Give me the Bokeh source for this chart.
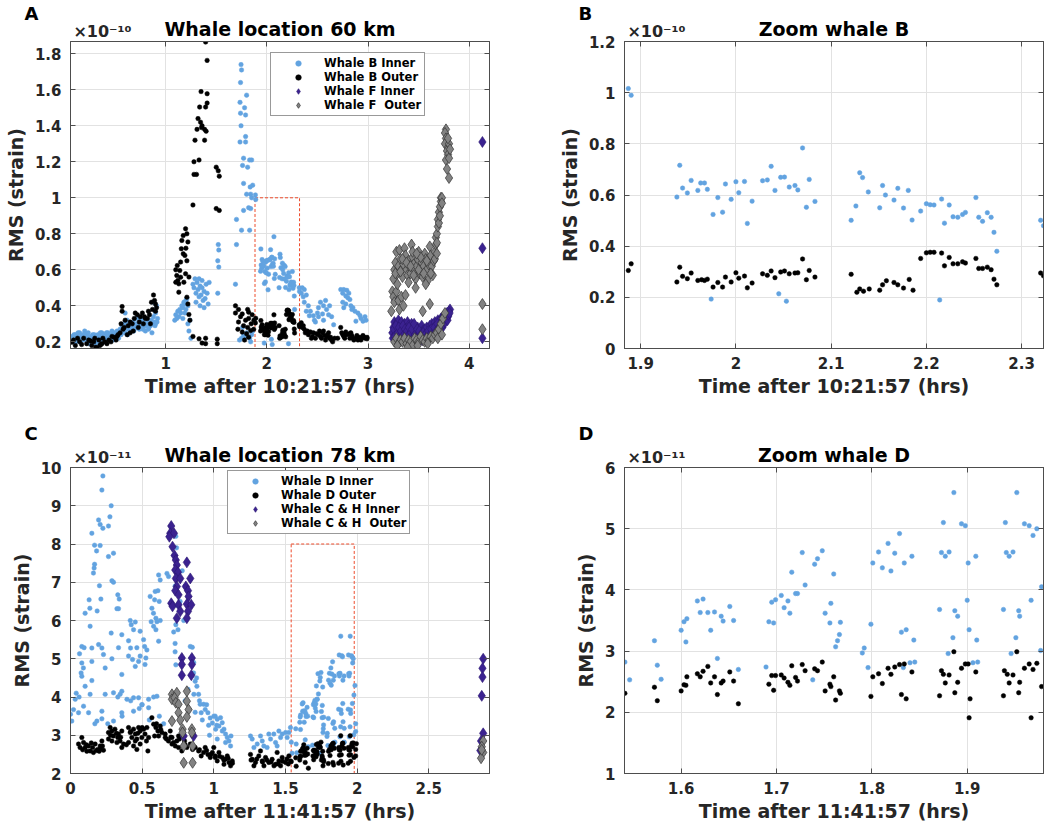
from bokeh.plotting import figure
from bokeh.models import Range1d, FixedTicker, Legend, LegendItem, LinearAxis
from bokeh.layouts import column, row
from bokeh.embed import file_html
from bokeh.resources import INLINE

FONT = "DejaVu Sans"
TXT = "#262626"
AX = "#4d4d4d"
BLUE = "#62a3e0"
BLACK = "#000000"
PURPLE = "#3b2290"
GRAY = "#828282"
RED = "#ee4b2b"

# ---------------- Whale location 60 km (units of 1e-10 strain) ----------------
bi_early = [
    (0.07, 0.21), (0.08, 0.23), (0.09, 0.20), (0.10, 0.22), (0.11, 0.24), (0.12, 0.21), (0.13, 0.23), (0.14, 0.22),
    (0.15, 0.25), (0.16, 0.20), (0.17, 0.23), (0.18, 0.24), (0.19, 0.21), (0.20, 0.26), (0.21, 0.22), (0.22, 0.24),
    (0.23, 0.21), (0.24, 0.19), (0.25, 0.23), (0.26, 0.22), (0.27, 0.20), (0.28, 0.24), (0.29, 0.21), (0.30, 0.23),
    (0.31, 0.19), (0.32, 0.22), (0.33, 0.24), (0.34, 0.20), (0.35, 0.23), (0.36, 0.21), (0.37, 0.25), (0.38, 0.22),
    (0.39, 0.20), (0.40, 0.24), (0.41, 0.23), (0.42, 0.21), (0.43, 0.25), (0.44, 0.22), (0.45, 0.24), (0.46, 0.23),
    (0.47, 0.26), (0.48, 0.21), (0.49, 0.24), (0.50, 0.25), (0.51, 0.22), (0.52, 0.26), (0.53, 0.23), (0.54, 0.25),
    (0.075, 0.22), (0.095, 0.24), (0.115, 0.20), (0.135, 0.25), (0.155, 0.22), (0.175, 0.21), (0.195, 0.24),
    (0.215, 0.23), (0.235, 0.25), (0.255, 0.20), (0.275, 0.22), (0.295, 0.24), (0.315, 0.23), (0.335, 0.21),
    (0.355, 0.25), (0.375, 0.23), (0.395, 0.22), (0.415, 0.25), (0.435, 0.23), (0.455, 0.21), (0.475, 0.24),
    (0.495, 0.22), (0.515, 0.24), (0.535, 0.22),
    (0.55, 0.27), (0.56, 0.24), (0.57, 0.29), (0.58, 0.26), (0.59, 0.30), (0.60, 0.25), (0.61, 0.28), (0.62, 0.32),
    (0.63, 0.27), (0.64, 0.29), (0.65, 0.26), (0.66, 0.30), (0.67, 0.28), (0.68, 0.31), (0.69, 0.27), (0.70, 0.29),
    (0.71, 0.33), (0.72, 0.28), (0.73, 0.30), (0.74, 0.27), (0.75, 0.31), (0.76, 0.29), (0.77, 0.32), (0.78, 0.28),
    (0.79, 0.30), (0.80, 0.26), (0.81, 0.29), (0.82, 0.31), (0.83, 0.27), (0.84, 0.30), (0.85, 0.29), (0.86, 0.32),
    (0.87, 0.30), (0.88, 0.34), (0.89, 0.31), (0.90, 0.36), (0.91, 0.40), (0.92, 0.33),
    (0.575, 0.26), (0.605, 0.31), (0.625, 0.24), (0.655, 0.29), (0.685, 0.26), (0.715, 0.30), (0.745, 0.33),
    (0.775, 0.27), (0.805, 0.30), (0.835, 0.28), (0.865, 0.25), (0.895, 0.29), (0.915, 0.31), (0.60, 0.36),
    (0.88, 0.42), (0.90, 0.30)]
bi_mid = [
    (1.09, 0.32), (1.10, 0.35), (1.11, 0.33), (1.12, 0.37), (1.13, 0.34), (1.14, 0.38), (1.15, 0.36), (1.16, 0.40),
    (1.17, 0.39), (1.18, 0.42), (1.19, 0.41), (1.20, 0.43), (1.21, 0.44), (1.20, 0.38), (1.22, 0.40), (1.22, 0.30),
    (1.23, 0.26), (1.24, 0.32), (1.25, 0.22), (1.17, 0.33), (1.19, 0.36),
    (1.27, 0.52), (1.28, 0.50), (1.29, 0.55), (1.30, 0.47), (1.31, 0.53), (1.32, 0.49), (1.33, 0.45), (1.34, 0.51),
    (1.35, 0.46), (1.36, 0.50), (1.37, 0.43), (1.38, 0.48), (1.39, 0.44), (1.40, 0.52), (1.41, 0.47), (1.42, 0.41),
    (1.43, 0.53), (1.30, 0.42), (1.34, 0.40), (1.38, 0.39), (1.33, 0.55), (1.36, 0.54),
    (1.52, 0.74), (1.525, 0.71), (1.515, 0.65), (1.525, 0.615), (1.515, 0.47)]
bi_spike = [
    (1.70, 0.88), (1.70, 0.74), (1.69, 0.52), (1.745, 1.74), (1.75, 1.71), (1.74, 1.64), (1.80, 1.57), (1.735, 1.53),
    (1.74, 1.47), (1.78, 1.50), (1.79, 1.46), (1.745, 1.40), (1.79, 1.34), (1.735, 1.31), (1.79, 1.31), (1.83, 1.21),
    (1.85, 1.21), (1.77, 1.22), (1.77, 1.08), (1.86, 1.07), (1.80, 1.02), (1.84, 1.02), (1.82, 0.945), (1.84, 0.94),
    (1.83, 0.82), (1.76, 1.18), (1.81, 1.17), (1.835, 1.06), (1.85, 1.00), (1.77, 0.93), (1.75, 0.82),
    (1.73, 0.21), (1.75, 0.22), (1.77, 0.24), (1.79, 0.23), (1.80, 0.25), (1.83, 0.22), (1.85, 0.24), (1.86, 0.26),
    (1.84, 0.20), (1.76, 0.28)]
bi_zoom = [
    (1.887, 1.016), (1.890, 0.99), (1.938, 0.592), (1.941, 0.716), (1.944, 0.627), (1.949, 0.608), (1.953, 0.657),
    (1.960, 0.618), (1.963, 0.647), (1.967, 0.647), (1.970, 0.622), (1.974, 0.193), (1.976, 0.524), (1.981, 0.590),
    (1.986, 0.533), (1.989, 0.643), (1.995, 0.583), (2.000, 0.652), (2.003, 0.609), (2.009, 0.653), (2.012, 0.489),
    (2.017, 0.576), (2.028, 0.656), (2.033, 0.659), (2.037, 0.712), (2.041, 0.618), (2.045, 0.214), (2.047, 0.669),
    (2.051, 0.670), (2.053, 0.185), (2.056, 0.631), (2.062, 0.637), (2.065, 0.620), (2.070, 0.784), (2.074, 0.552),
    (2.077, 0.661), (2.083, 0.575), (2.121, 0.501), (2.126, 0.557), (2.130, 0.687), (2.133, 0.668), (2.139, 0.612),
    (2.151, 0.550), (2.154, 0.637), (2.157, 0.600), (2.166, 0.580), (2.170, 0.626), (2.176, 0.549), (2.181, 0.618),
    (2.185, 0.502), (2.194, 0.537), (2.200, 0.566), (2.204, 0.562), (2.208, 0.561), (2.214, 0.190), (2.216, 0.584),
    (2.219, 0.490), (2.224, 0.561), (2.228, 0.515), (2.233, 0.513), (2.238, 0.524), (2.241, 0.532), (2.252, 0.590),
    (2.255, 0.513), (2.259, 0.497), (2.264, 0.531), (2.268, 0.513), (2.271, 0.454), (2.274, 0.380), (2.320, 0.501),
    (2.323, 0.480)]
bi_late = [
    (2.35, 0.50), (2.37, 0.49), (2.34, 0.47), (2.36, 0.45), (2.39, 0.46), (2.37, 0.42), (2.41, 0.40), (2.39, 0.37),
    (2.43, 0.37), (2.46, 0.345), (2.47, 0.32), (2.50, 0.36), (2.51, 0.39), (2.53, 0.42), (2.56, 0.40), (2.58, 0.43),
    (2.59, 0.38), (2.61, 0.35), (2.62, 0.40), (2.64, 0.34), (2.66, 0.295), (2.51, 0.34), (2.55, 0.355), (2.56, 0.32),
    (2.48, 0.31), (2.42, 0.345), (2.73, 0.49), (2.76, 0.49), (2.79, 0.486), (2.81, 0.47), (2.75, 0.47), (2.78, 0.455),
    (2.80, 0.445), (2.82, 0.435), (2.75, 0.42), (2.78, 0.41), (2.83, 0.40), (2.85, 0.39), (2.87, 0.37), (2.90, 0.36),
    (2.92, 0.346), (2.93, 0.33), (2.97, 0.34), (2.98, 0.32), (2.88, 0.315), (2.95, 0.315), (2.76, 0.39), (2.84, 0.38)]

bo_early = [
    (0.075, 0.198), (0.108, 0.18), (0.17, 0.185), (0.22, 0.19), (0.27, 0.18), (0.32, 0.166), (0.35, 0.18), (0.40, 0.20),
    (0.44, 0.21), (0.49, 0.225), (0.53, 0.24), (0.57, 0.396), (0.57, 0.37), (0.59, 0.28), (0.56, 0.30), (0.60, 0.32),
    (0.65, 0.31), (0.70, 0.36), (0.72, 0.35), (0.75, 0.34), (0.77, 0.36), (0.80, 0.33), (0.83, 0.37), (0.86, 0.42),
    (0.88, 0.46), (0.90, 0.41), (0.87, 0.38), (0.90, 0.37), (0.91, 0.39), (0.68, 0.26), (0.73, 0.28), (0.65, 0.25),
    (0.62, 0.24), (0.09, 0.21), (0.13, 0.22), (0.15, 0.20), (0.19, 0.22), (0.24, 0.21), (0.29, 0.20), (0.30, 0.22),
    (0.34, 0.21), (0.37, 0.19), (0.38, 0.22), (0.42, 0.19), (0.46, 0.20), (0.47, 0.23), (0.51, 0.21), (0.52, 0.23),
    (0.55, 0.25), (0.58, 0.27), (0.63, 0.29), (0.67, 0.30), (0.69, 0.33), (0.74, 0.31), (0.78, 0.30), (0.79, 0.34),
    (0.82, 0.33), (0.84, 0.35), (0.85, 0.30), (0.89, 0.43), (0.31, 0.17), (0.36, 0.185), (0.26, 0.205)]
bo_mid = [
    (1.10, 0.60), (1.10, 0.531), (1.11, 0.568), (1.115, 0.624), (1.13, 0.522), (1.13, 0.476), (1.14, 0.596),
    (1.148, 0.643), (1.148, 0.559), (1.155, 0.717), (1.16, 0.763), (1.174, 0.79), (1.174, 0.689), (1.18, 0.531),
    (1.197, 0.828), (1.197, 0.578), (1.21, 0.80), (1.21, 0.448), (1.22, 0.755), (1.23, 0.56), (1.23, 0.352),
    (1.24, 0.32), (1.20, 0.72), (1.19, 0.68), (1.21, 0.65), (1.22, 0.41), (1.12, 0.54),
    (1.395, 1.865), (1.41, 1.763), (1.35, 1.59), (1.41, 1.578), (1.41, 1.526), (1.336, 1.504), (1.395, 1.504),
    (1.32, 1.44), (1.345, 1.42), (1.355, 1.39), (1.31, 1.38), (1.385, 1.38), (1.29, 1.32), (1.385, 1.32), (1.28, 1.20),
    (1.33, 1.21), (1.28, 1.13), (1.305, 1.13), (1.27, 0.96), (1.50, 1.17), (1.52, 1.15), (1.53, 1.12), (1.50, 0.94),
    (1.53, 0.93), (1.36, 1.40), (1.40, 1.37),
    (1.27, 0.23), (1.33, 0.217), (1.36, 0.193), (1.395, 0.22), (1.395, 0.19), (1.51, 0.215), (1.51, 0.19),
    (1.69, 0.40), (1.69, 0.36), (1.72, 0.38), (1.757, 0.355), (1.81, 0.38), (1.82, 0.365), (1.74, 0.34), (1.79, 0.32),
    (1.82, 0.33), (1.855, 0.35), (1.72, 0.31), (1.77, 0.29), (1.81, 0.28), (1.845, 0.30), (1.87, 0.27), (1.757, 0.254),
    (1.80, 0.245), (1.84, 0.263), (1.872, 0.32), (1.714, 0.27), (1.82, 0.226), (1.78, 0.21)]
bo_zoom = [
    (1.887, 0.305), (1.890, 0.331), (1.938, 0.26), (1.941, 0.318), (1.944, 0.282), (1.949, 0.273), (1.953, 0.295),
    (1.960, 0.266), (1.964, 0.269), (1.967, 0.266), (1.970, 0.271), (1.976, 0.24), (1.981, 0.258), (1.986, 0.24),
    (1.989, 0.279), (1.995, 0.26), (2.000, 0.296), (2.003, 0.275), (2.009, 0.283), (2.012, 0.237), (2.017, 0.256),
    (2.028, 0.292), (2.033, 0.286), (2.037, 0.303), (2.041, 0.277), (2.047, 0.299), (2.051, 0.303), (2.056, 0.292),
    (2.062, 0.295), (2.065, 0.296), (2.070, 0.35), (2.074, 0.269), (2.077, 0.305), (2.083, 0.279), (2.121, 0.29),
    (2.127, 0.22), (2.130, 0.233), (2.134, 0.224), (2.140, 0.233), (2.151, 0.228), (2.154, 0.249), (2.158, 0.265),
    (2.166, 0.258), (2.170, 0.249), (2.176, 0.236), (2.182, 0.27), (2.186, 0.228), (2.194, 0.352), (2.200, 0.374),
    (2.204, 0.376), (2.208, 0.376), (2.216, 0.373), (2.219, 0.323), (2.224, 0.356), (2.228, 0.331), (2.233, 0.331),
    (2.238, 0.339), (2.241, 0.334), (2.252, 0.352), (2.255, 0.313), (2.259, 0.313), (2.264, 0.318), (2.268, 0.308),
    (2.271, 0.271), (2.274, 0.249), (2.320, 0.295), (2.323, 0.284)]
bo_late = [
    (2.333, 0.291), (2.34, 0.306), (2.35, 0.28), (2.37, 0.27), (2.40, 0.26), (2.43, 0.255), (2.44, 0.22), (2.46, 0.25),
    (2.49, 0.245), (2.52, 0.26), (2.53, 0.23), (2.55, 0.25), (2.57, 0.235), (2.58, 0.21), (2.60, 0.24), (2.62, 0.22),
    (2.63, 0.225), (2.65, 0.20), (2.67, 0.22), (2.70, 0.22), (2.73, 0.28), (2.74, 0.25), (2.76, 0.23), (2.78, 0.255),
    (2.81, 0.244), (2.82, 0.22), (2.84, 0.235), (2.86, 0.21), (2.89, 0.235), (2.90, 0.21), (2.92, 0.225), (2.95, 0.235),
    (2.96, 0.226), (2.99, 0.225), (2.99, 0.217), (2.36, 0.29), (2.38, 0.25), (2.41, 0.24), (2.45, 0.23), (2.48, 0.22),
    (2.51, 0.24), (2.54, 0.22), (2.56, 0.26), (2.59, 0.23), (2.61, 0.25), (2.64, 0.21), (2.75, 0.24), (2.77, 0.22),
    (2.79, 0.24), (2.83, 0.25), (2.85, 0.22), (2.88, 0.22), (2.93, 0.21), (2.97, 0.22)]

fi_pts = [
    (3.24, 0.25), (3.25, 0.28), (3.26, 0.31), (3.27, 0.24), (3.28, 0.30), (3.29, 0.27), (3.30, 0.32), (3.31, 0.26),
    (3.32, 0.29), (3.33, 0.31), (3.34, 0.25), (3.35, 0.28), (3.36, 0.30), (3.37, 0.27), (3.38, 0.24), (3.39, 0.31),
    (3.40, 0.29), (3.41, 0.26), (3.42, 0.28), (3.43, 0.30), (3.44, 0.25), (3.45, 0.27), (3.46, 0.29), (3.47, 0.23),
    (3.48, 0.26), (3.49, 0.28), (3.50, 0.24), (3.51, 0.27), (3.52, 0.25), (3.53, 0.29), (3.54, 0.26), (3.55, 0.23),
    (3.56, 0.27), (3.57, 0.25), (3.58, 0.28), (3.59, 0.24), (3.60, 0.26), (3.61, 0.29), (3.62, 0.27), (3.63, 0.30),
    (3.64, 0.26), (3.65, 0.28), (3.66, 0.31), (3.67, 0.27), (3.68, 0.29), (3.69, 0.32), (3.70, 0.28), (3.71, 0.30),
    (3.72, 0.33), (3.73, 0.31), (3.74, 0.34), (3.75, 0.32), (3.76, 0.35), (3.77, 0.33), (3.78, 0.36), (3.79, 0.34),
    (3.80, 0.37), (3.81, 0.38),
    (3.245, 0.22), (3.255, 0.27), (3.265, 0.23), (3.275, 0.29), (3.285, 0.22), (3.295, 0.25), (3.305, 0.28),
    (3.315, 0.23), (3.325, 0.26), (3.335, 0.22), (3.345, 0.29), (3.355, 0.24), (3.365, 0.27), (3.375, 0.22),
    (3.385, 0.26), (3.395, 0.23), (3.405, 0.28), (3.415, 0.22), (3.425, 0.25), (3.435, 0.27), (3.445, 0.22),
    (3.455, 0.30), (3.465, 0.24), (3.475, 0.22), (3.485, 0.27), (3.495, 0.23), (3.505, 0.26), (3.515, 0.22),
    (3.525, 0.24), (3.535, 0.21), (3.545, 0.25), (3.555, 0.22), (3.565, 0.24), (3.575, 0.21), (3.585, 0.23),
    (3.595, 0.26), (3.605, 0.22), (3.615, 0.24), (3.625, 0.27), (3.635, 0.23), (3.645, 0.25), (3.655, 0.28),
    (3.665, 0.24), (3.675, 0.26), (3.685, 0.30), (3.695, 0.27), (3.705, 0.25), (3.715, 0.29), (3.725, 0.31),
    (3.735, 0.28), (3.745, 0.30), (3.755, 0.33), (3.765, 0.31), (3.775, 0.34), (3.785, 0.32), (3.795, 0.35),
    (3.805, 0.36), (3.27, 0.43), (4.13, 1.31), (4.13, 0.72), (4.13, 0.22)]
fo_pts = [
    (3.23, 0.37), (3.24, 0.48), (3.25, 0.55), (3.26, 0.60), (3.27, 0.64), (3.28, 0.70), (3.29, 0.58), (3.30, 0.62),
    (3.31, 0.71), (3.32, 0.66), (3.33, 0.60), (3.34, 0.56), (3.35, 0.63), (3.36, 0.72), (3.37, 0.68), (3.38, 0.60),
    (3.39, 0.57), (3.40, 0.65), (3.41, 0.62), (3.42, 0.58), (3.43, 0.74), (3.44, 0.67), (3.45, 0.63), (3.46, 0.60),
    (3.47, 0.55), (3.48, 0.62), (3.49, 0.66), (3.50, 0.70), (3.51, 0.58), (3.52, 0.60), (3.53, 0.64), (3.54, 0.56),
    (3.55, 0.62), (3.56, 0.69), (3.57, 0.66), (3.58, 0.60), (3.59, 0.54), (3.60, 0.63), (3.61, 0.73), (3.62, 0.68),
    (3.63, 0.62), (3.64, 0.57), (3.65, 0.65),
    (3.25, 0.45), (3.26, 0.42), (3.28, 0.48), (3.30, 0.43), (3.31, 0.38), (3.33, 0.45), (3.35, 0.40), (3.37, 0.46),
    (3.54, 0.37), (3.61, 0.41), (3.29, 0.52), (3.40, 0.53), (3.47, 0.50), (3.57, 0.52),
    (3.27, 0.58), (3.32, 0.59), (3.34, 0.66), (3.38, 0.64), (3.42, 0.62), (3.45, 0.57), (3.50, 0.60), (3.52, 0.67),
    (3.55, 0.58), (3.58, 0.65), (3.62, 0.58), (3.44, 0.70), (3.48, 0.69),
    (3.66, 0.70), (3.67, 0.74), (3.67, 0.78), (3.68, 0.80), (3.68, 0.75), (3.69, 0.84), (3.69, 0.88), (3.70, 0.86),
    (3.70, 0.92), (3.71, 0.90), (3.71, 0.95), (3.72, 0.98), (3.72, 1.00), (3.73, 1.00), (3.73, 0.97), (3.66, 0.66),
    (3.68, 0.69),
    (3.77, 1.38), (3.76, 1.36), (3.77, 1.33), (3.78, 1.31), (3.76, 1.30), (3.79, 1.28), (3.78, 1.26), (3.80, 1.30),
    (3.79, 1.24), (3.77, 1.21), (3.80, 1.22), (3.78, 1.16), (3.80, 1.11), (3.81, 1.27), (3.79, 1.33),
    (3.26, 0.20), (3.28, 0.22), (3.30, 0.19), (3.32, 0.21), (3.34, 0.20), (3.36, 0.22), (3.38, 0.19), (3.40, 0.21),
    (3.42, 0.20), (3.44, 0.18), (3.46, 0.22), (3.48, 0.21), (3.50, 0.20), (3.52, 0.23), (3.54, 0.21), (3.56, 0.20),
    (3.58, 0.22), (3.60, 0.21), (3.62, 0.23), (3.64, 0.22), (3.66, 0.24), (3.68, 0.25), (3.70, 0.27), (3.72, 0.30),
    (3.74, 0.33), (3.76, 0.36), (3.29, 0.18), (3.39, 0.17), (3.49, 0.18), (3.59, 0.19), (3.69, 0.22), (3.73, 0.24),
    (4.13, 0.41), (4.13, 0.27)]

# ---------------- Whale location 78 km (units of 1e-11 strain) ----------------
di_main = [
    (0.0, 3.55), (0.009, 3.37), (0.021, 3.67), (0.033, 3.94), (0.04, 4.1), (0.056, 3.59), (0.06, 4.0), (0.063, 5.13),
    (0.074, 4.63), (0.079, 4.54), (0.079, 4.89), (0.079, 5.32), (0.09, 4.76), (0.091, 3.76), (0.095, 5.29),
    (0.102, 6.19), (0.102, 4.28), (0.126, 3.59), (0.13, 6.54), (0.135, 6.32), (0.137, 5.85), (0.137, 4.07),
    (0.149, 8.28), (0.149, 5.28), (0.149, 4.93), (0.149, 4.43), (0.16, 7.24), (0.165, 7.37), (0.168, 7.47),
    (0.168, 7.97), (0.17, 3.3), (0.182, 7.82), (0.184, 3.37), (0.186, 6.25), (0.196, 8.63), (0.196, 5.37),
    (0.202, 6.91), (0.207, 8.51), (0.207, 7.96), (0.212, 6.56), (0.219, 9.41), (0.219, 5.28), (0.219, 3.63),
    (0.219, 3.43), (0.226, 9.78), (0.226, 8.41), (0.23, 5.11), (0.242, 4.76), (0.242, 4.07), (0.26, 3.3),
    (0.265, 8.47), (0.265, 7.67), (0.275, 8.71), (0.284, 9.0), (0.284, 5.67), (0.289, 7.04), (0.289, 5.0),
    (0.30, 7.76), (0.30, 7.0), (0.30, 4.11), (0.30, 3.37), (0.324, 6.31), (0.33, 6.67), (0.33, 4.0), (0.335, 6.31),
    (0.335, 5.29), (0.34, 6.56), (0.346, 4.07), (0.358, 5.63), (0.358, 4.59), (0.358, 4.15), (0.358, 3.59),
    (0.36, 3.5), (0.394, 3.94), (0.405, 5.47), (0.405, 5.07), (0.417, 6.0), (0.419, 5.28), (0.42, 3.9), (0.424, 5.89),
    (0.433, 4.98), (0.44, 5.76), (0.44, 3.98), (0.44, 3.63), (0.452, 5.96), (0.452, 4.80), (0.463, 5.29),
    (0.475, 4.93), (0.475, 3.98), (0.48, 3.7), (0.486, 5.72), (0.486, 5.07), (0.498, 3.80), (0.5, 3.8), (0.51, 5.50),
    (0.517, 5.32), (0.52, 4.85), (0.526, 5.02), (0.533, 5.23), (0.545, 3.94), (0.545, 3.72), (0.55, 3.4),
    (0.556, 6.63), (0.563, 5.97), (0.568, 6.32), (0.579, 6.19), (0.58, 5.85), (0.58, 4.0), (0.587, 6.54),
    (0.591, 6.76), (0.596, 6.06), (0.596, 5.76), (0.603, 5.97), (0.603, 4.02), (0.61, 6.78), (0.615, 7.19),
    (0.615, 5.46), (0.619, 6.50), (0.62, 3.5), (0.626, 7.06), (0.626, 6.0), (0.65, 3.3), (0.673, 7.23),
    (0.684, 7.15), (0.72, 5.7), (0.73, 5.18), (0.73, 6.9), (0.73, 5.4), (0.735, 8.2), (0.735, 5.89), (0.735, 4.84),
    (0.74, 7.9), (0.745, 6.4), (0.75, 7.3), (0.75, 5.76), (0.765, 6.5), (0.77, 3.0), (0.78, 7.3), (0.79, 6.0),
    (0.8, 6.9), (0.8, 3.9), (0.82, 4.2), (0.836, 5.32), (0.843, 5.02), (0.85, 5.3), (0.859, 4.63), (0.86, 4.9),
    (0.861, 4.07), (0.87, 4.41), (0.87, 3.6), (0.88, 4.5), (0.882, 4.28), (0.894, 4.07), (0.9, 3.9), (0.905, 3.81),
    (0.912, 3.59), (0.92, 3.4), (0.929, 3.81), (0.94, 3.67), (0.95, 3.8), (0.959, 3.59), (0.964, 3.26), (0.97, 3.0),
    (0.975, 3.45), (0.99, 3.32), (1.0, 3.50), (1.01, 3.50), (1.013, 3.16), (1.02, 3.26), (1.024, 3.42),
    (1.024, 2.90), (1.036, 3.24), (1.047, 3.46), (1.059, 3.33), (1.059, 3.11), (1.071, 3.16), (1.082, 3.03),
    (1.082, 2.81), (1.094, 2.94), (1.106, 2.85), (1.117, 2.72), (1.12, 2.98), (1.256, 2.98), (1.268, 2.90),
    (1.28, 2.68), (1.303, 2.77), (1.326, 2.98), (1.338, 2.85), (1.349, 2.72), (1.372, 2.68), (1.384, 3.03),
    (1.396, 2.90), (1.419, 3.03), (1.431, 2.81), (1.442, 2.72), (1.454, 3.11), (1.466, 2.94), (1.477, 3.03),
    (1.501, 3.07), (1.512, 2.94), (1.524, 3.07), (1.535, 3.20)]
di_zoom = [
    (1.541, 2.82), (1.546, 2.53), (1.572, 3.17), (1.575, 2.77), (1.579, 2.54), (1.600, 3.34), (1.603, 3.48),
    (1.605, 3.15), (1.606, 3.53), (1.617, 3.82), (1.620, 3.63), (1.623, 3.85), (1.628, 3.63), (1.631, 3.34),
    (1.635, 3.64), (1.638, 2.88), (1.642, 3.57), (1.644, 3.49), (1.651, 3.73), (1.655, 3.50), (1.660, 2.70),
    (1.689, 2.74), (1.692, 3.48), (1.695, 3.80), (1.697, 3.46), (1.699, 3.84), (1.705, 3.91), (1.708, 3.71),
    (1.712, 3.82), (1.714, 3.62), (1.716, 4.29), (1.720, 3.94), (1.722, 3.94), (1.727, 4.61), (1.730, 4.08),
    (1.738, 2.53), (1.740, 4.42), (1.743, 4.51), (1.748, 4.64), (1.751, 3.62), (1.757, 3.78), (1.756, 3.46),
    (1.760, 4.26), (1.762, 3.07), (1.764, 3.17), (1.766, 3.27), (1.767, 3.47), (1.790, 2.97), (1.792, 3.05),
    (1.796, 2.73), (1.799, 3.44), (1.801, 4.44), (1.807, 4.62), (1.811, 4.36), (1.817, 4.76), (1.820, 4.31),
    (1.824, 4.60), (1.829, 4.92), (1.831, 3.31), (1.834, 4.44), (1.836, 3.35), (1.833, 2.73), (1.840, 2.81),
    (1.842, 4.55), (1.844, 3.18), (1.845, 2.82), (1.871, 3.68), (1.873, 4.61), (1.875, 5.10), (1.877, 4.55),
    (1.880, 2.96), (1.881, 4.62), (1.885, 3.22), (1.886, 5.59), (1.887, 3.66), (1.890, 3.57), (1.894, 5.08),
    (1.898, 5.05), (1.900, 3.83), (1.901, 4.44), (1.902, 3.35), (1.906, 2.81), (1.909, 4.55), (1.910, 3.18),
    (1.911, 2.82), (1.938, 3.68), (1.940, 5.10), (1.941, 4.61), (1.944, 4.55), (1.946, 2.96), (1.948, 4.62),
    (1.951, 3.22), (1.952, 5.59), (1.954, 3.66), (1.955, 3.57), (1.960, 5.08), (1.965, 5.05), (1.967, 3.83),
    (1.969, 4.89), (1.973, 5.00), (1.977, 3.01), (1.978, 4.05)]
di_late = [(1.985, 4.3), (1.99, 3.3), (1.99, 3.1)]

do_main = [
    (0.056, 2.77), (0.067, 2.68), (0.079, 2.94), (0.091, 2.81), (0.102, 2.68), (0.114, 2.58), (0.126, 2.72),
    (0.137, 2.59), (0.154, 2.68), (0.16, 2.55), (0.172, 2.77), (0.191, 2.63), (0.20, 2.58), (0.207, 2.72),
    (0.219, 2.85), (0.223, 2.72), (0.23, 2.61), (0.265, 3.07), (0.265, 2.90), (0.277, 3.20), (0.289, 3.11),
    (0.289, 2.85), (0.30, 2.98), (0.31, 3.16), (0.324, 2.81), (0.33, 2.94), (0.335, 3.03), (0.346, 2.85),
    (0.358, 3.11), (0.358, 2.68), (0.37, 2.77), (0.405, 3.20), (0.405, 2.81), (0.417, 3.07), (0.428, 2.94),
    (0.44, 3.16), (0.44, 2.72), (0.452, 3.03), (0.452, 2.85), (0.463, 2.90), (0.463, 2.63), (0.475, 3.20),
    (0.486, 3.11), (0.486, 2.77), (0.498, 2.94), (0.51, 3.16), (0.52, 3.03), (0.533, 3.20), (0.54, 2.59),
    (0.545, 2.94), (0.568, 3.46), (0.58, 3.29), (0.587, 2.98), (0.596, 3.20), (0.61, 3.11), (0.615, 2.98),
    (0.626, 3.24), (0.638, 3.07), (0.661, 2.94), (0.661, 3.03), (0.684, 2.85), (0.696, 3.11), (0.708, 2.94),
    (0.708, 2.77), (0.719, 2.81), (0.731, 2.72), (0.742, 2.85), (0.754, 2.68), (0.754, 2.98), (0.777, 2.59),
    (0.796, 2.85), (0.812, 2.68), (0.836, 2.77), (0.852, 2.63), (0.87, 2.68), (0.894, 2.59), (0.912, 2.46),
    (0.929, 2.55), (0.94, 2.68), (0.959, 2.50), (0.975, 2.42), (0.99, 2.55), (1.0, 2.68), (1.01, 2.42),
    (1.01, 2.46), (1.024, 2.33), (1.036, 2.55), (1.059, 2.42), (1.071, 2.24), (1.08, 2.37), (1.094, 2.46),
    (1.106, 2.29), (1.117, 2.20), (1.129, 2.33), (1.256, 2.50), (1.268, 2.37), (1.28, 2.20), (1.291, 2.29),
    (1.314, 2.46), (1.326, 2.59), (1.338, 2.33), (1.35, 2.20), (1.361, 2.42), (1.384, 2.29), (1.407, 2.37),
    (1.42, 2.20), (1.431, 2.24), (1.442, 2.55), (1.454, 2.33), (1.466, 2.20), (1.477, 2.42), (1.501, 2.29),
    (1.524, 2.46), (1.535, 2.33),
    (0.085, 2.62), (0.11, 2.75), (0.145, 2.8), (0.18, 2.6), (0.21, 2.65), (0.28, 3.0), (0.32, 3.05), (0.35, 2.95),
    (0.39, 2.75), (0.42, 3.1), (0.47, 3.05), (0.50, 3.2), (0.53, 2.85), (0.6, 3.3), (0.63, 3.15), (0.67, 2.9),
    (0.7, 2.95), (0.76, 2.9), (0.8, 2.75), (0.86, 2.7), (0.9, 2.62), (0.95, 2.6), (0.98, 2.5), (1.04, 2.45),
    (1.07, 2.35), (1.1, 2.4), (1.13, 2.27), (1.26, 2.35), (1.3, 2.38), (1.34, 2.3), (1.37, 2.35), (1.4, 2.3),
    (1.45, 2.25), (1.48, 2.32), (1.51, 2.38), (1.52, 2.25)]
do_zoom = [
    (1.541, 2.31), (1.572, 2.41), (1.575, 2.19), (1.600, 2.35), (1.603, 2.45), (1.605, 2.44), (1.606, 2.58),
    (1.617, 2.63), (1.620, 2.58), (1.623, 2.67), (1.628, 2.75), (1.631, 2.48), (1.635, 2.58), (1.638, 2.29),
    (1.642, 2.48), (1.644, 2.51), (1.651, 2.66), (1.655, 2.51), (1.660, 2.14), (1.692, 2.46), (1.695, 2.60),
    (1.697, 2.36), (1.699, 2.60), (1.705, 2.61), (1.708, 2.56), (1.712, 2.49), (1.714, 2.44), (1.716, 2.76),
    (1.720, 2.57), (1.722, 2.51), (1.727, 2.78), (1.730, 2.68), (1.740, 2.71), (1.743, 2.68), (1.748, 2.82),
    (1.751, 2.35), (1.756, 2.46), (1.757, 2.42), (1.760, 2.58), (1.762, 2.20), (1.766, 2.35), (1.767, 2.31),
    (1.799, 2.26), (1.801, 2.58), (1.807, 2.63), (1.811, 2.47), (1.817, 2.72), (1.820, 2.62), (1.824, 2.74),
    (1.829, 2.78), (1.831, 2.29), (1.834, 2.79), (1.836, 2.22), (1.842, 2.66), (1.871, 2.27), (1.873, 2.68),
    (1.875, 2.62), (1.877, 2.48), (1.881, 2.61), (1.886, 2.99), (1.887, 2.32), (1.890, 2.49), (1.894, 2.72),
    (1.898, 2.79), (1.901, 2.79), (1.902, 1.91), (1.903, 2.22), (1.909, 2.66), (1.938, 2.27), (1.939, 2.68),
    (1.942, 2.62), (1.944, 2.48), (1.948, 2.61), (1.952, 2.99), (1.954, 2.32), (1.955, 2.49), (1.960, 2.72),
    (1.965, 2.79), (1.967, 1.91), (1.969, 2.70), (1.973, 2.80), (1.978, 2.42)]
do_late = [(1.99, 2.63), (1.99, 2.46), (1.995, 2.78)]

ci_pts = [
    (0.703, 8.47), (0.696, 8.28), (0.722, 8.28), (0.69, 8.19), (0.712, 7.93), (0.726, 7.70), (0.735, 7.58),
    (0.742, 7.45), (0.731, 7.32), (0.75, 7.26), (0.735, 7.10), (0.812, 7.52), (0.766, 7.10), (0.836, 7.10),
    (0.742, 6.89), (0.805, 6.89), (0.731, 6.78), (0.754, 6.67), (0.82, 6.78), (0.824, 6.63), (0.703, 6.45),
    (0.712, 6.37), (0.754, 6.41), (0.812, 6.43), (0.843, 6.41), (0.766, 6.24), (0.82, 6.24), (0.742, 6.06),
    (0.812, 6.06), (0.777, 5.02), (0.847, 5.02), (0.777, 4.85), (0.847, 4.85), (0.777, 4.57), (0.843, 4.57),
    (0.79, 2.98), (0.859, 2.98),
    (2.88, 5.0), (2.875, 4.75), (2.875, 4.52), (2.87, 4.03), (2.88, 3.05), (2.865, 2.85), (2.86, 2.6)]
co_pts = [
    (0.708, 4.07), (0.742, 4.11), (0.812, 4.15), (0.708, 3.94), (0.726, 3.98), (0.735, 3.85), (0.754, 3.81),
    (0.812, 3.89), (0.754, 3.59), (0.824, 3.67), (0.766, 3.40), (0.812, 3.48), (0.708, 3.37), (0.782, 3.16),
    (0.847, 3.16), (0.782, 3.07), (0.847, 3.07), (0.79, 2.72), (0.852, 2.72), (0.79, 2.28), (0.852, 2.28),
    (2.88, 2.85), (2.87, 2.7), (2.88, 2.55), (2.865, 2.4), (2.87, 2.62)]

# zoom boxes [left, right, bottom, top]
box_b = [1.883, 2.323, 0.0, 1.0]
box_d = [1.54, 1.98, 1.5, 8.0]

# axes
xt_a = [1, 2, 3, 4]; xl_a = ["1", "2", "3", "4"]
yt_a = [0.2, 0.4, 0.6, 0.8, 1.0, 1.2, 1.4, 1.6, 1.8]
yl_a = ["0.2", "0.4", "0.6", "0.8", "1", "1.2", "1.4", "1.6", "1.8"]
xt_b = [1.9, 2.0, 2.1, 2.2, 2.3]; xl_b = ["1.9", "2", "2.1", "2.2", "2.3"]
yt_b = [0, 0.2, 0.4, 0.6, 0.8, 1.0, 1.2]; yl_b = ["0", "0.2", "0.4", "0.6", "0.8", "1", "1.2"]
xt_c = [0, 0.5, 1, 1.5, 2, 2.5]; xl_c = ["0", "0.5", "1", "1.5", "2", "2.5"]
yt_c = [2, 3, 4, 5, 6, 7, 8, 9, 10]; yl_c = ["2", "3", "4", "5", "6", "7", "8", "9", "10"]
xt_d = [1.6, 1.7, 1.8, 1.9]; xl_d = ["1.6", "1.7", "1.8", "1.9"]
yt_d = [1, 2, 3, 4, 5, 6]; yl_d = ["1", "2", "3", "4", "5", "6"]
exp_a = "\u00d710\u207b\u00b9\u2070"   # x10^-10
exp_c = "\u00d710\u207b\u00b9\u00b9"   # x10^-11


def xy(*segs):
    return [p[0] for s in segs for p in s], [p[1] for s in segs for p in s]


def style_axis(ax):
    ax.axis_label_text_font = FONT
    ax.axis_label_text_font_size = "19px"
    ax.axis_label_text_font_style = "bold"
    ax.axis_label_text_color = TXT
    ax.major_label_text_font = FONT
    ax.major_label_text_font_size = "15px"
    ax.major_label_text_font_style = "bold"
    ax.major_label_text_color = TXT
    ax.axis_line_color = AX
    ax.major_tick_line_color = AX
    ax.minor_tick_line_color = AX
    ax.major_tick_in = 5
    ax.major_tick_out = 0
    ax.minor_tick_in = 0
    ax.minor_tick_out = 0
    ax.axis_label_standoff = 3


def make_fig(letter, title, xlabel, xr, yr, xt, xl, yt, yl, border, height, exp, letter_standoff):
    l, r, t, b = border
    p = figure(width=524, height=height, output_backend="svg", toolbar_location=None,
               x_range=Range1d(*xr), y_range=Range1d(*yr),
               min_border_left=l, min_border_right=r, min_border_top=t, min_border_bottom=b,
               background_fill_color="white", border_fill_color="white")
    # panel letter as the figure title (outermost row, left)
    p.title.text = letter
    p.title.align = "left"
    p.title.vertical_align = "middle"
    p.title.offset = -46
    p.title.text_font = FONT
    p.title.text_font_size = "18px"
    p.title.text_font_style = "bold"
    p.title.text_color = "black"
    p.title.standoff = letter_standoff
    p.outline_line_color = AX
    p.outline_line_alpha = 1
    p.outline_line_width = 1
    p.xaxis.ticker = FixedTicker(ticks=xt)
    p.xaxis.major_label_overrides = dict(zip(xt, xl))
    p.yaxis.ticker = FixedTicker(ticks=yt)
    p.yaxis.major_label_overrides = dict(zip(yt, yl))
    p.xaxis.axis_label = xlabel
    p.yaxis.axis_label = "RMS (strain)"
    style_axis(p.xaxis[0])
    style_axis(p.yaxis[0])
    p.xaxis.major_label_standoff = 8
    p.yaxis.major_label_standoff = 9
    p.yaxis.axis_label_standoff = 5
    p.grid.grid_line_color = "#e2e2e2"
    p.grid.grid_line_width = 1

    # top axis: inner ticks, exponent label and the panel title
    frame_w = 524 - l - r
    x_exp = xr[0] + (xr[1] - xr[0]) * 32.0 / frame_w
    top = LinearAxis(ticker=FixedTicker(ticks=[x_exp], minor_ticks=xt))
    style_axis(top)
    top.major_label_overrides = {x_exp: exp}
    top.major_label_text_font_size = "16px"
    top.major_label_text_color = TXT
    top.major_label_standoff = 1
    top.major_tick_in = 0
    top.minor_tick_in = 5
    top.axis_label = title
    top.axis_label_text_font_size = "19px"
    top.axis_label_text_color = "black"
    top.axis_label_standoff = -21
    p.add_layout(top, "above")

    # right axis: inner ticks only
    right = LinearAxis(ticker=FixedTicker(ticks=[], minor_ticks=yt))
    style_axis(right)
    right.major_label_text_font_size = "0px"
    right.major_tick_in = 0
    right.minor_tick_in = 5
    right.major_label_standoff = 0
    p.add_layout(right, "right")
    return p


def add_series(p, inner, outer, dinner, douter):
    r1 = p.scatter(inner[0], inner[1], marker="circle", size=4.5, fill_color=BLUE, line_color=BLUE, line_width=0.5)
    r2 = p.scatter(outer[0], outer[1], marker="circle", size=4.5, fill_color=BLACK, line_color=BLACK, line_width=0.5)
    r3 = p.scatter(dinner[0], dinner[1], marker="diamond", size=11, fill_color=PURPLE, line_color="#2a1670",
                   line_width=0.6)
    r4 = p.scatter(douter[0], douter[1], marker="diamond", size=11, fill_color=GRAY, line_color="#333333",
                   line_width=0.7)
    return [r1, r2, r3, r4]


def add_legend(p, rs, labels, loc):
    leg = Legend(items=[LegendItem(label=lab, renderers=[r]) for lab, r in zip(labels, rs)], location=loc)
    leg.label_text_font = FONT
    leg.label_text_font_size = "11.5px"
    leg.label_text_font_style = "bold"
    leg.label_text_color = "black"
    leg.glyph_width = 48
    leg.glyph_height = 14
    leg.label_height = 14
    leg.label_standoff = 2
    leg.spacing = 0
    leg.padding = 3
    leg.margin = 0
    leg.border_line_color = "#333333"
    leg.border_line_width = 1
    leg.background_fill_color = "white"
    leg.background_fill_alpha = 1
    p.add_layout(leg)


def add_box(p, box):
    p.quad(left=[box[0]], right=[box[1]], bottom=[box[2]], top=[box[3]], fill_alpha=0,
           line_color=RED, line_dash="3 2", line_width=1)


bin_all = xy(bi_early, bi_mid, bi_spike, bi_zoom, bi_late)
bout_all = xy(bo_early, bo_mid, bo_zoom, bo_late)
fin_all = xy(fi_pts)
fout_all = xy(fo_pts)
din_all = xy(di_main, di_zoom, di_late)
dout_all = xy(do_main, do_zoom, do_late)
cin_all = xy(ci_pts)
cout_all = xy(co_pts)

pa = make_fig("A", "Whale location 60 km", "Time after 10:21:57 (hrs)", (0.06, 4.2), (0.163, 1.868),
              xt_a, xl_a, yt_a, yl_a, (70, 35, 41, 64), 412, exp_a, -20)
add_box(pa, box_b)
ra = add_series(pa, bin_all, bout_all, fin_all, fout_all)
add_legend(pa, ra, ["Whale B Inner", "Whale B Outer", "Whale F Inner", "Whale F  Outer"], (200, 232))

pb = make_fig("B", "Zoom whale B", "Time after 10:21:57 (hrs)", (1.883, 2.323), (0, 1.2),
              xt_b, xl_b, yt_b, yl_b, (100, 5, 41, 64), 412, exp_a, -20)
add_series(pb, bin_all, bout_all, fin_all, fout_all)

pc = make_fig("C", "Whale location 78 km", "Time after 11:41:57 (hrs)", (0, 2.924), (2, 10),
              xt_c, xl_c, yt_c, yl_c, (70, 35, 55, 50), 412, exp_c, -8)
add_box(pc, box_d)
rc = add_series(pc, din_all, dout_all, cin_all, cout_all)
add_legend(pc, rc, ["Whale D Inner", "Whale D Outer", "Whale C & H Inner", "Whale C & H  Outer"], (157, 239))

pd_ = make_fig("D", "Zoom whale D", "Time after 11:41:57 (hrs)", (1.5406, 1.98), (1, 6),
               xt_d, xl_d, yt_d, yl_d, (100, 5, 55, 50), 412, exp_c, -8)
add_series(pd_, din_all, dout_all, cin_all, cout_all)

layout = column(row(pa, pb), row(pc, pd_))
open("out.html", "w").write(file_html(layout, INLINE))
